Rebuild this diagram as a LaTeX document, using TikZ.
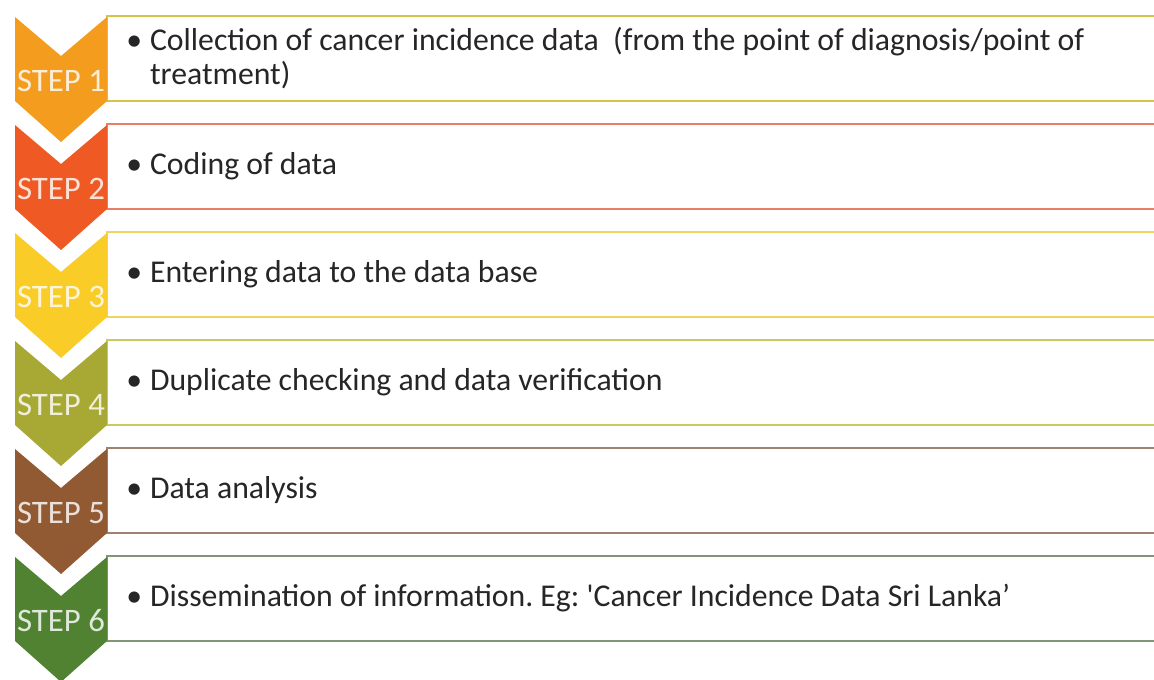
\documentclass[tikz,border=0pt]{standalone}
\usepackage{fontspec}
\setmainfont{Carlito}
\usepackage{xcolor}
\definecolor{chev1}{RGB}{243,156,30}
\definecolor{chev2}{RGB}{239,90,36}
\definecolor{chev3}{RGB}{249,204,40}
\definecolor{chev4}{RGB}{168,168,52}
\definecolor{chev5}{RGB}{145,90,50}
\definecolor{chev6}{RGB}{80,130,50}
\definecolor{line1}{RGB}{212,196,74}
\definecolor{line2}{RGB}{232,128,104}
\definecolor{line3}{RGB}{240,212,96}
\definecolor{line4}{RGB}{200,204,90}
\definecolor{line5}{RGB}{160,128,112}
\definecolor{line6}{RGB}{128,150,118}
\usepackage{tikz}
\usetikzlibrary{positioning}
\frenchspacing

\begin{document}
\begin{tikzpicture}[
    x=0.75pt, y=-0.75pt,
    steplabel/.style={font=\fontsize{24.6}{26}\selectfont, text=white, text opacity=0.82, anchor=base, inner sep=0pt},
    itemtext/.style={font=\fontsize{23.8}{25.5}\selectfont, text=black!85, anchor=west, align=left, inner sep=0pt},
    itembox/.style={line width=1.5pt, fill=white}
]
\useasboundingbox (0,0) rectangle (1154,680);
\clip (0,0) rectangle (1154,680);

% ==================== STEPS ====================
\foreach \k/\txt in {
    1/{\textbullet\hspace{6pt}Collection of cancer incidence data\ \ (from the point of diagnosis/point of\\\phantom{\textbullet}\hspace{6pt}treatment)},
    2/{\textbullet\hspace{6pt}Coding of data},
    3/{\textbullet\hspace{6pt}Entering data to the data base},
    4/{\textbullet\hspace{6pt}Duplicate checking and data verification},
    5/{\textbullet\hspace{6pt}Data analysis},
    6/{\textbullet\hspace{6pt}Dissemination of information. Eg: \textquotesingle Cancer Incidence Data Sri Lanka’}
} {
    \pgfmathsetmacro{\yt}{16+108*(\k-1)}
    % text box
    \draw[itembox, draw=line\k] (107,\yt) rectangle (1170,\yt+85);
    % chevron
    \fill[chev\k] (15,\yt+1) -- (61,\yt+40) -- (107,\yt+1) -- (107,\yt+85)
        -- (61,\yt+126) -- (15,\yt+85) -- cycle;
    \node[steplabel] (step\k) at (61,\yt+76) {STEP \k};
    \node[itemtext] (item\k) at (126,\yt+42.5) {\txt};
}

\end{tikzpicture}
\end{document}
